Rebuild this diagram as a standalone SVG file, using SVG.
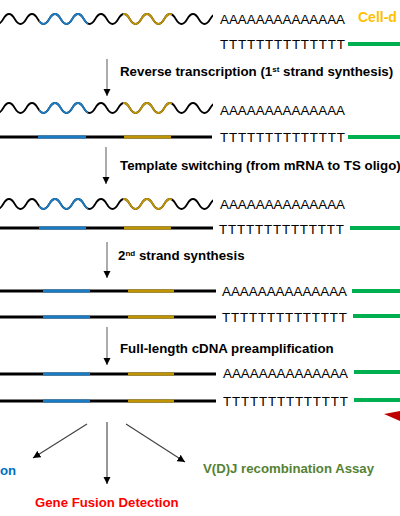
<svg xmlns="http://www.w3.org/2000/svg" xmlns:xlink="http://www.w3.org/1999/xlink" width="400" height="516" viewBox="0 0 400 516">
<style>
.wv{fill:none;stroke-width:1.8;stroke-linecap:butt}
.k{stroke:#000}
.b{stroke:#1b7cc6}
.g{stroke:#c09400}
.st{stroke-width:3;fill:none}
.gr{stroke:#00b050;stroke-width:4}
.seq{font-family:"Liberation Sans",Arial,sans-serif;font-size:13.4px;fill:#000}
.lab{font-family:"Liberation Sans",Arial,sans-serif;font-size:13.3px;font-weight:bold;fill:#000}
.out{font-family:"Liberation Sans",Arial,sans-serif;font-size:13.2px;font-weight:bold}
.arr{stroke:#7f7f7f;stroke-width:1.3;fill:none}
.arr2{stroke:#404040;stroke-width:1.1;fill:none}
</style>
<defs>
<path id="wave" d="M-8.25,0 q5.75,10 11.5,0 t11.5,0 t11.5,0 t11.5,0 t11.5,0 t11.5,0 t11.5,0 t11.5,0 t11.5,0 t11.5,0 t11.5,0 t11.5,0 t11.5,0 t11.5,0 t11.5,0 t11.5,0 t11.5,0 t11.5,0 t11.5,0 t11.5,0"/>
<clipPath id="cw"><rect x="0" y="-10" width="213" height="20"/></clipPath>
<clipPath id="cb"><rect x="39" y="-10" width="49" height="20"/></clipPath>
<clipPath id="cg"><rect x="123" y="-10" width="49" height="20"/></clipPath>
<marker id="ah" viewBox="0 0 10 10" refX="10" refY="5" markerWidth="7.5" markerHeight="7.5" markerUnits="userSpaceOnUse" orient="auto"><path d="M0,0 L10,5 L0,10 z" fill="#000"/></marker>
</defs>

<g id="row1">
<use xlink:href="#wave" class="wv k" transform="translate(0,19)" clip-path="url(#cw)"/>
<use xlink:href="#wave" class="wv b" transform="translate(0,19)" clip-path="url(#cb)"/>
<use xlink:href="#wave" class="wv g" transform="translate(0,19)" clip-path="url(#cg)"/>
<text class="seq" x="220" y="23.5">AAAAAAAAAAAAAA</text>
<text x="358" y="21.5" class="out" style="fill:#ffc000;font-size:14px">Cell-d</text>
</g>
<g id="row2">
<text class="seq" x="220" y="48.5" textLength="125" lengthAdjust="spacing">TTTTTTTTTTTTTT</text>
<line class="gr" x1="348" y1="44" x2="400" y2="44"/>
</g>

<g id="row3">
<use xlink:href="#wave" class="wv k" transform="translate(0,108)" clip-path="url(#cw)"/>
<use xlink:href="#wave" class="wv b" transform="translate(0,108)" clip-path="url(#cb)"/>
<use xlink:href="#wave" class="wv g" transform="translate(0,108)" clip-path="url(#cg)"/>
<text class="seq" x="220" y="115">AAAAAAAAAAAAAA</text>
</g>
<g id="row4">
<line class="st" stroke="#000" x1="0" y1="137" x2="212" y2="137"/>
<line class="st" stroke="#1b7cc6" x1="38" y1="137" x2="86" y2="137"/>
<line class="st" stroke="#c09400" x1="124" y1="137" x2="171" y2="137"/>
<text class="seq" x="220" y="141.5" textLength="125" lengthAdjust="spacing">TTTTTTTTTTTTTT</text>
<line class="gr" x1="348" y1="137" x2="400" y2="137"/>
</g>

<g id="row5">
<use xlink:href="#wave" class="wv k" transform="translate(0,204)" clip-path="url(#cw)"/>
<use xlink:href="#wave" class="wv b" transform="translate(0,204)" clip-path="url(#cb)"/>
<use xlink:href="#wave" class="wv g" transform="translate(0,204)" clip-path="url(#cg)"/>
<text class="seq" x="220" y="208.5">AAAAAAAAAAAAAA</text>
</g>
<g id="row6">
<line class="st" stroke="#000" x1="0" y1="228" x2="213" y2="228"/>
<line class="st" stroke="#1b7cc6" x1="39" y1="228" x2="86" y2="228"/>
<line class="st" stroke="#c09400" x1="124" y1="228" x2="171" y2="228"/>
<text class="seq" x="219" y="234" textLength="125" lengthAdjust="spacing">TTTTTTTTTTTTTT</text>
<line class="gr" x1="350" y1="228" x2="400" y2="228"/>
</g>

<g id="row7">
<line class="st" stroke="#000" x1="0" y1="291" x2="216" y2="291"/>
<line class="st" stroke="#1b7cc6" x1="43" y1="291" x2="90" y2="291"/>
<line class="st" stroke="#c09400" x1="128" y1="291" x2="174" y2="291"/>
<text class="seq" x="222" y="296">AAAAAAAAAAAAAA</text>
<line class="gr" x1="352" y1="291" x2="400" y2="291"/>
</g>
<g id="row8">
<line class="st" stroke="#000" x1="0" y1="317" x2="216" y2="317"/>
<line class="st" stroke="#1b7cc6" x1="43" y1="317" x2="90" y2="317"/>
<line class="st" stroke="#c09400" x1="128" y1="317" x2="174" y2="317"/>
<text class="seq" x="222" y="322" textLength="125" lengthAdjust="spacing">TTTTTTTTTTTTTT</text>
<line class="gr" x1="353" y1="316" x2="400" y2="316"/>
</g>

<g id="row9">
<line class="st" stroke="#000" x1="0" y1="374" x2="216" y2="374"/>
<line class="st" stroke="#1b7cc6" x1="43" y1="374" x2="90" y2="374"/>
<line class="st" stroke="#c09400" x1="128" y1="374" x2="174" y2="374"/>
<text class="seq" x="223" y="378">AAAAAAAAAAAAAA</text>
<line class="gr" x1="354" y1="372" x2="400" y2="372"/>
</g>
<g id="row10">
<line class="st" stroke="#000" x1="0" y1="401" x2="216" y2="401"/>
<line class="st" stroke="#1b7cc6" x1="43" y1="401" x2="90" y2="401"/>
<line class="st" stroke="#c09400" x1="128" y1="401" x2="174" y2="401"/>
<text class="seq" x="223" y="406" textLength="125" lengthAdjust="spacing">TTTTTTTTTTTTTT</text>
<line class="gr" x1="354" y1="400" x2="400" y2="400"/>
<polygon points="384,414 400,411 400,421" fill="#c00000"/>
</g>

<g id="labels">
<text class="lab" x="120" y="76">Reverse transcription (1<tspan font-size="8" dy="-4.5">st</tspan><tspan dy="4.5"> strand synthesis)</tspan></text>
<text class="lab" x="120" y="170">Template switching (from mRNA to TS oligo)</text>
<text class="lab" x="118" y="260">2<tspan font-size="8" dy="-4.5">nd</tspan><tspan dy="4.5"> strand synthesis</tspan></text>
<text class="lab" x="120" y="353">Full-length cDNA preamplification</text>
</g>

<g id="connectors">
<line class="arr" x1="107" y1="59" x2="107" y2="96" marker-end="url(#ah)"/>
<line class="arr" x1="106" y1="147" x2="106" y2="184" marker-end="url(#ah)"/>
<line class="arr" x1="107" y1="242" x2="107" y2="278" marker-end="url(#ah)"/>
<line class="arr" x1="107" y1="327" x2="107" y2="365" marker-end="url(#ah)"/>
<line class="arr2" x1="87" y1="424" x2="33" y2="458" marker-end="url(#ah)"/>
<line class="arr2" x1="107" y1="422" x2="107" y2="484" marker-end="url(#ah)"/>
<line class="arr2" x1="126" y1="424" x2="185" y2="462" marker-end="url(#ah)"/>
</g>

<g id="outputs">
<text class="out" x="0" y="475" style="fill:#0070c0">on</text>
<text class="out" x="35" y="507" style="fill:#ff0000">Gene Fusion Detection</text>
<text class="out" x="203" y="473" style="fill:#548235">V(D)J recombination Assay</text>
</g>
</svg>
